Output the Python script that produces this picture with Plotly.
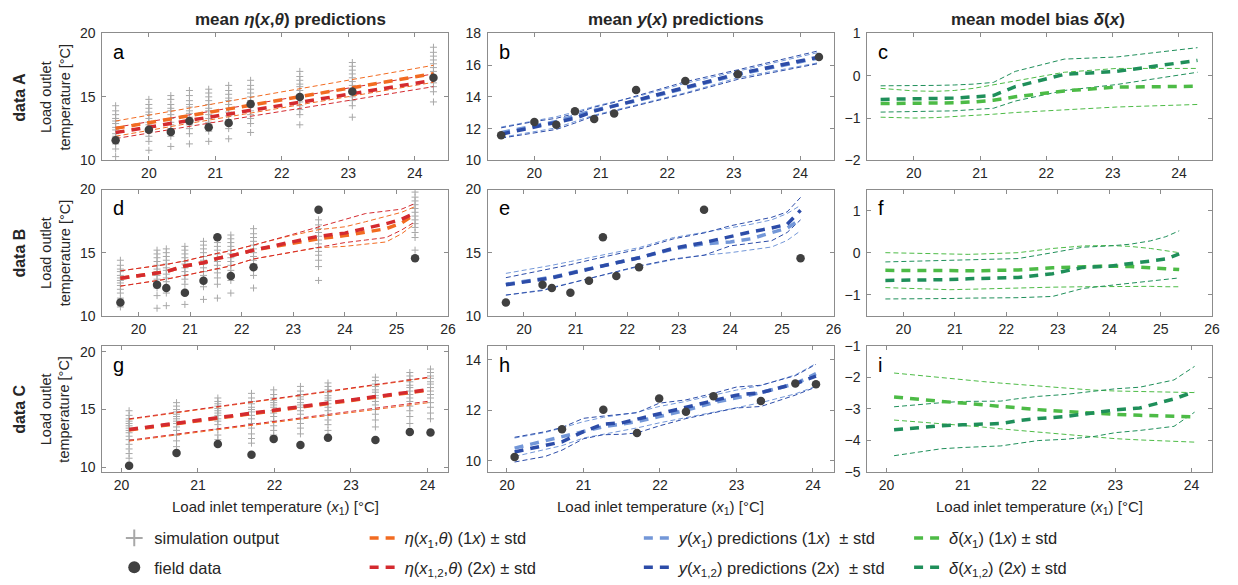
import plotly.graph_objects as go

# ---------------- DATA ----------------
# data A (field inputs and outputs)
xA = [19.5, 20.0, 20.33, 20.61, 20.9, 21.2, 21.53, 22.27, 23.06, 24.28]
fieldA = [11.58, 12.42, 12.24, 13.1, 12.6, 12.95, 14.43, 14.99, 15.42, 16.5]
simA = [
    [10.3, 10.9, 11.3, 11.6, 11.9, 12.1, 12.4, 12.6, 12.9, 13.1, 13.3, 13.6, 13.9, 14.3],
    [10.8, 11.5, 11.9, 12.2, 12.5, 12.8, 13.0, 13.3, 13.6, 13.8, 14.1, 14.4, 14.8],
    [11.1, 11.9, 12.2, 12.5, 12.8, 13.0, 13.3, 13.6, 13.9, 14.1, 14.4, 14.8, 15.1],
    [11.3, 12.1, 12.5, 12.8, 13.1, 13.4, 13.7, 13.9, 14.2, 14.4, 14.7, 15.1, 15.5],
    [11.5, 12.3, 12.7, 13.0, 13.3, 13.6, 13.9, 14.1, 14.4, 14.7, 15.0, 15.3, 15.6],
    [11.7, 12.5, 12.9, 13.2, 13.5, 13.8, 14.1, 14.4, 14.7, 14.9, 15.2, 15.5, 15.9],
    [12.2, 12.9, 13.3, 13.6, 13.9, 14.2, 14.5, 14.7, 15.0, 15.3, 15.6, 15.9, 16.3],
    [12.8, 13.6, 14.0, 14.3, 14.6, 14.9, 15.2, 15.5, 15.8, 16.0, 16.3, 16.6, 17.0],
    [13.4, 14.3, 14.7, 15.0, 15.3, 15.6, 15.9, 16.2, 16.5, 16.8, 17.1, 17.4, 17.7],
    [14.6, 15.4, 15.8, 16.1, 16.4, 16.7, 17.0, 17.3, 17.6, 17.9, 18.2, 18.5, 18.9],
]
eta1A_mean = [12.52, 12.97, 13.27, 13.52, 13.78, 14.05, 14.35, 15.01, 15.72, 16.82]
eta1A_up = [13.1, 13.56, 13.87, 14.12, 14.39, 14.67, 14.97, 15.65, 16.38, 17.48]
eta1A_lo = [11.9, 12.38, 12.67, 12.92, 13.17, 13.43, 13.73, 14.37, 15.06, 16.14]
eta2A_mean = [12.19, 12.62, 12.9, 13.14, 13.39, 13.65, 13.94, 14.57, 15.25, 16.3]
eta2A_up = [12.6, 13.05, 13.34, 13.59, 13.85, 14.11, 14.41, 15.05, 15.74, 16.8]
eta2A_lo = [11.72, 12.16, 12.45, 12.68, 12.93, 13.18, 13.47, 14.09, 14.76, 15.8]
y1A_mean = [11.75, 12.15, 12.45, 12.8, 13.15, 13.45, 13.75, 14.55, 15.4, 16.45]
y1A_up = [12.1, 12.5, 12.75, 13.05, 13.4, 13.7, 14.0, 14.85, 15.6, 16.8]
y1A_lo = [11.45, 11.8, 12.05, 12.45, 12.85, 13.15, 13.5, 14.25, 15.2, 16.15]
y2A_mean = [11.65, 12.1, 12.35, 12.65, 13.1, 13.42, 13.77, 14.6, 15.45, 16.5]
y2A_up = [12.05, 12.45, 12.65, 12.95, 13.35, 13.65, 14.05, 14.95, 15.7, 16.9]
y2A_lo = [11.4, 11.75, 11.95, 12.35, 12.8, 13.1, 13.45, 14.2, 15.1, 16.1]
d1A_mean = [-0.66, -0.66, -0.66, -0.64, -0.62, -0.58, -0.5, -0.36, -0.27, -0.25]
d1A_up = [-0.3, -0.36, -0.37, -0.35, -0.3, -0.22, -0.13, 0.08, 0.17, 0.17]
d1A_lo = [-0.98, -1.0, -0.99, -0.97, -0.94, -0.91, -0.87, -0.81, -0.74, -0.68]
d2A_mean = [-0.56, -0.55, -0.55, -0.53, -0.5, -0.47, -0.26, 0.03, 0.1, 0.36]
d2A_up = [-0.24, -0.24, -0.23, -0.22, -0.2, -0.16, 0.1, 0.39, 0.44, 0.66]
d2A_lo = [-0.86, -0.85, -0.84, -0.83, -0.8, -0.77, -0.6, -0.35, -0.21, 0.08]

# data B
xB = [19.65, 20.36, 20.54, 20.9, 21.26, 21.53, 21.79, 22.23, 23.49, 25.36]
fieldB = [11.05, 12.46, 12.2, 11.82, 12.77, 16.23, 13.15, 13.85, 18.41, 14.56]
simB = [
    [10.7, 11.4, 11.8, 12.1, 12.4, 12.6, 12.8, 13.0, 13.2, 13.5, 13.7, 14.0, 14.4],
    [10.6, 11.6, 12.2, 12.6, 12.9, 13.2, 13.5, 13.7, 14.0, 14.3, 14.6, 14.9, 15.2],
    [10.8, 11.8, 12.3, 12.7, 13.0, 13.3, 13.6, 13.8, 14.1, 14.4, 14.7, 15.0, 15.3],
    [10.9, 11.9, 12.5, 12.9, 13.2, 13.5, 13.8, 14.1, 14.3, 14.6, 14.9, 15.2, 15.5],
    [11.3, 12.3, 12.8, 13.2, 13.5, 13.8, 14.1, 14.4, 14.7, 15.0, 15.3, 15.6, 15.9],
    [11.4, 12.5, 13.0, 13.4, 13.7, 14.0, 14.3, 14.6, 14.9, 15.2, 15.5, 15.8, 16.2],
    [11.8, 12.8, 13.3, 13.6, 14.0, 14.3, 14.6, 14.9, 15.2, 15.5, 15.8, 16.1, 16.4],
    [12.2, 13.2, 13.7, 14.1, 14.4, 14.7, 15.0, 15.3, 15.6, 15.9, 16.2, 16.5, 16.9],
    [12.8, 13.9, 14.4, 14.8, 15.1, 15.4, 15.7, 16.0, 16.3, 16.6, 16.9, 17.2, 17.6],
    [15.2, 16.2, 16.6, 17.0, 17.3, 17.6, 17.9, 18.2, 18.5, 18.8, 19.1, 19.4, 19.8],
]
gridB = [19.65, 20.36, 20.54, 20.9, 21.26, 21.53, 21.79, 22.23, 22.9, 23.49, 24.0, 24.4, 24.8, 25.1, 25.36]
eta1B_mean = [12.97, 13.35, 13.5, 13.95, 14.2, 14.55, 14.75, 15.2, 15.7, 16.1, 16.35, 16.65, 16.9, 17.35, 18.05]
eta1B_up = [13.56, 13.95, 14.07, 14.35, 14.7, 14.95, 15.15, 15.6, 16.3, 16.82, 17.05, 17.45, 17.85, 18.2, 18.65]
eta1B_lo = [12.35, 12.8, 12.9, 13.2, 13.5, 13.75, 13.95, 14.5, 14.95, 15.4, 15.5, 15.65, 15.85, 16.5, 17.3]
eta2B_mean = [12.97, 13.35, 13.5, 13.95, 14.2, 14.55, 14.75, 15.2, 15.75, 16.3, 16.55, 16.9, 17.3, 17.65, 18.15]
eta2B_up = [13.56, 13.95, 14.07, 14.35, 14.7, 14.95, 15.15, 15.6, 16.35, 17.05, 17.6, 18.1, 18.3, 18.45, 18.9]
eta2B_lo = [12.35, 12.8, 12.9, 13.2, 13.5, 13.75, 13.95, 14.5, 15.0, 15.45, 15.8, 16.0, 16.2, 16.8, 17.45]
y1B_mean = [12.5, 12.9, 13.05, 13.4, 13.75, 14.0, 14.2, 14.6, 15.3, 15.7, 15.85, 16.1, 16.55, 16.95, 17.64]
y1B_up = [13.36, 13.85, 14.0, 14.3, 14.6, 14.85, 15.05, 15.4, 16.2, 16.6, 16.95, 17.25, 17.6, 18.1, 18.75]
y1B_lo = [11.64, 12.05, 12.25, 12.6, 12.95, 13.2, 13.45, 13.9, 14.45, 14.8, 15.0, 15.2, 15.45, 15.97, 16.74]
y2B_mean = [12.46, 12.85, 13.0, 13.35, 13.72, 14.0, 14.2, 14.6, 15.35, 15.8, 16.3, 16.65, 16.95, 17.25, 18.36]
y2B_up = [13.02, 13.6, 13.75, 14.05, 14.4, 14.64, 14.9, 15.28, 16.1, 16.56, 17.13, 17.45, 17.8, 18.23, 19.38]
y2B_lo = [11.64, 12.0, 12.2, 12.6, 12.95, 13.23, 13.5, 13.95, 14.5, 14.8, 15.54, 15.75, 15.95, 16.6, 17.6]
d1B_mean = [-0.42, -0.43, -0.43, -0.44, -0.43, -0.43, -0.42, -0.41, -0.36, -0.33, -0.32, -0.33, -0.35, -0.38, -0.4]
d1B_up = [0.0, -0.02, -0.03, -0.04, -0.04, -0.03, -0.02, 0.0, 0.1, 0.16, 0.17, 0.15, 0.1, 0.04, 0.0]
d1B_lo = [-0.83, -0.86, -0.87, -0.88, -0.87, -0.86, -0.85, -0.83, -0.82, -0.81, -0.8, -0.8, -0.8, -0.81, -0.81]
d2B_mean = [-0.66, -0.66, -0.65, -0.64, -0.62, -0.61, -0.6, -0.59, -0.5, -0.35, -0.32, -0.27, -0.2, -0.15, -0.03]
d2B_up = [-0.22, -0.2, -0.2, -0.19, -0.18, -0.17, -0.16, -0.14, 0.0, 0.13, 0.16, 0.2, 0.28, 0.38, 0.52]
d2B_lo = [-1.1, -1.1, -1.1, -1.09, -1.08, -1.08, -1.07, -1.07, -1.04, -0.85, -0.78, -0.73, -0.68, -0.64, -0.6]

# data C
xC = [20.1, 20.72, 21.26, 21.7, 21.99, 22.34, 22.7, 23.32, 23.77, 24.04]
fieldC = [10.15, 11.25, 12.02, 11.1, 12.47, 11.94, 12.56, 12.37, 13.06, 13.03]
simC = [
    [10.8, 11.2, 11.6, 12.0, 12.4, 12.7, 13.0, 13.2, 13.4, 13.6, 13.8, 14.0, 14.2, 14.5, 14.9],
    [11.8, 12.3, 12.8, 13.2, 13.5, 13.8, 14.0, 14.2, 14.4, 14.6, 14.8, 15.0, 15.3, 15.6],
    [12.4, 12.8, 13.3, 13.7, 14.0, 14.2, 14.5, 14.7, 14.9, 15.1, 15.3, 15.5, 15.7, 16.0],
    [12.1, 12.5, 12.9, 13.4, 13.8, 14.2, 14.5, 14.8, 15.0, 15.2, 15.5, 15.7, 16.0, 16.4],
    [12.8, 13.2, 13.6, 14.0, 14.4, 14.7, 14.9, 15.2, 15.4, 15.6, 15.8, 16.0, 16.3, 16.7],
    [12.9, 13.4, 13.8, 14.2, 14.6, 14.9, 15.2, 15.4, 15.6, 15.9, 16.1, 16.3, 16.6, 17.0],
    [13.2, 13.7, 14.1, 14.5, 14.9, 15.2, 15.5, 15.8, 16.0, 16.2, 16.5, 16.7, 17.0, 17.3],
    [13.5, 14.1, 14.6, 15.0, 15.4, 15.7, 16.0, 16.2, 16.5, 16.7, 17.0, 17.2, 17.5, 17.8],
    [13.8, 14.4, 14.9, 15.3, 15.7, 16.0, 16.3, 16.6, 16.9, 17.1, 17.4, 17.6, 17.9, 18.2],
    [14.2, 14.7, 15.2, 15.6, 16.0, 16.3, 16.6, 16.9, 17.2, 17.4, 17.7, 17.9, 18.2, 18.5],
]
eta1C_mean = [13.23, 13.78, 14.25, 14.64, 14.89, 15.2, 15.52, 16.06, 16.46, 16.7]
eta1C_up = [14.15, 14.72, 15.22, 15.62, 15.89, 16.21, 16.54, 17.11, 17.53, 17.77]
eta1C_lo = [12.28, 12.8, 13.25, 13.63, 13.88, 14.18, 14.49, 15.02, 15.4, 15.62]
eta2C_mean = [13.28, 13.83, 14.3, 14.69, 14.94, 15.25, 15.57, 16.11, 16.51, 16.75]
eta2C_up = [14.2, 14.77, 15.27, 15.67, 15.94, 16.26, 16.59, 17.16, 17.58, 17.82]
eta2C_lo = [12.35, 12.88, 13.35, 13.73, 13.98, 14.28, 14.59, 15.12, 15.51, 15.74]
gridC = [20.1, 20.5, 20.72, 21.0, 21.26, 21.5, 21.7, 21.99, 22.34, 22.7, 23.0, 23.32, 23.77, 24.04]
y1C_mean = [10.5, 10.8, 10.95, 11.15, 11.35, 11.45, 11.55, 11.75, 12.0, 12.3, 12.5, 12.7, 13.05, 13.45]
y1C_up = [10.9, 11.12, 11.3, 11.55, 11.72, 11.82, 11.92, 12.15, 12.35, 12.6, 12.8, 12.98, 13.4, 13.85]
y1C_lo = [10.17, 10.45, 10.6, 10.9, 11.05, 11.2, 11.3, 11.5, 11.7, 11.9, 12.1, 12.3, 12.65, 12.95]
y2C_mean = [10.35, 10.62, 10.75, 11.15, 11.45, 11.5, 11.65, 11.85, 12.1, 12.4, 12.6, 12.7, 13.05, 13.35]
y2C_up = [10.93, 11.15, 11.32, 11.68, 11.77, 11.85, 11.9, 12.28, 12.41, 12.67, 12.92, 12.99, 13.37, 13.82]
y2C_lo = [9.95, 10.17, 10.42, 10.87, 11.03, 11.05, 11.1, 11.38, 11.67, 11.9, 12.09, 12.15, 12.6, 12.92]
d1C_mean = [-2.62, -2.72, -2.76, -2.81, -2.87, -2.93, -2.97, -3.02, -3.08, -3.14, -3.17, -3.2, -3.23, -3.25]
d1C_up = [-1.86, -1.96, -2.0, -2.07, -2.13, -2.18, -2.22, -2.27, -2.33, -2.4, -2.43, -2.45, -2.47, -2.48]
d1C_lo = [-3.35, -3.42, -3.46, -3.51, -3.57, -3.63, -3.67, -3.74, -3.81, -3.88, -3.94, -3.98, -4.03, -4.05]
d2C_mean = [-3.66, -3.57, -3.53, -3.5, -3.49, -3.46, -3.38, -3.3, -3.24, -3.13, -3.03, -2.97, -2.68, -2.45]
d2C_up = [-2.93, -2.84, -2.8, -2.76, -2.76, -2.75, -2.68, -2.6, -2.54, -2.45, -2.36, -2.31, -2.08, -1.65]
d2C_lo = [-4.48, -4.33, -4.26, -4.22, -4.19, -4.17, -4.1, -4.0, -3.96, -3.88, -3.75, -3.68, -3.55, -3.1]

# axis ranges / ticks per panel (a..i)
x_ranges = [[19.3, 24.5]] * 3 + [[19.3, 26.0]] * 3 + [[19.75, 24.27]] * 3
x_ticks = [[20, 21, 22, 23, 24]] * 3 + [[20, 21, 22, 23, 24, 25, 26]] * 3 + [[20, 21, 22, 23, 24]] * 3
y_ranges = [[10, 20], [10, 18], [-2, 1], [10, 20], [10, 20], [-1.5, 1.5],
            [9.6, 20.5], [9.55, 14.55], [-5, -1]]
y_ticks = [[10, 15, 20], [10, 12, 14, 16, 18], [-2, -1, 0, 1], [10, 15, 20], [10, 15, 20],
           [-1, 0, 1], [10, 15, 20], [10, 12, 14], [-5, -4, -3, -2, -1]]
panel_letters = ["a", "b", "c", "d", "e", "f", "g", "h", "i"]
col_titles = ["<b>mean <i>η</i>(<i>x</i>,<i>θ</i>) predictions</b>",
              "<b>mean <i>y</i>(<i>x</i>) predictions</b>",
              "<b>mean model bias <i>δ</i>(<i>x</i>)</b>"]
row_titles = ["<b>data A</b>", "<b>data B</b>", "<b>data C</b>"]
ylab = "Load outlet<br>temperature [°C]"
xlab = "Load inlet temperature (<i>x</i><sub>1</sub>) [°C]"
leg_names = {
    "sim": "simulation output",
    "field": "field data",
    "eta1": "<i>η</i>(<i>x</i><sub>1</sub>,<i>θ</i>) (1<i>x</i>) ± std",
    "eta2": "<i>η</i>(<i>x</i><sub>1,2</sub>,<i>θ</i>) (2<i>x</i>) ± std",
    "y1": "<i>y</i>(<i>x</i><sub>1</sub>) predictions (1<i>x</i>) \u00a0± std",
    "y2": "<i>y</i>(<i>x</i><sub>1,2</sub>) predictions (2<i>x</i>) \u00a0± std",
    "d1": "<i>δ</i>(<i>x</i><sub>1</sub>) (1<i>x</i>) ± std",
    "d2": "<i>δ</i>(<i>x</i><sub>1,2</sub>) (2<i>x</i>) ± std",
}

# ---------------- STYLE ----------------
W, H = 1238, 585
FONT = "Liberation Sans, Arial, Helvetica, sans-serif"
TXT = "#262626"
AXC = "#8c8c8c"
C_OR, C_RED = "#F26B21", "#D42A2F"
C_LB, C_DB = "#7397D8", "#2C4CA8"
C_LG, C_DG = "#4DBB46", "#1F8F5A"
C_SIM, C_FIELD = "#a8a8a8", "#404040"
COLS = [(103, 451), (491, 839), (873, 1220)]
ROWS = [(26, 157), (187, 317), (348, 478)]


def px(v):
    return v / W


def py(v):
    return 1 - v / H


fig = go.Figure()


def axn(k):
    n = k + 1
    return ("x" if n == 1 else f"x{n}"), ("y" if n == 1 else f"y{n}")


def add_sim(k, xs, sims, legend=False):
    xa, ya = axn(k)
    xx, yy = [], []
    for xv, vals in zip(xs, sims):
        xx += [xv] * len(vals)
        yy += vals
    fig.add_trace(go.Scatter(x=xx, y=yy, mode="markers", xaxis=xa, yaxis=ya,
                             marker=dict(symbol="cross-thin", size=5, color=C_SIM,
                                         line=dict(width=1, color=C_SIM)),
                             name=leg_names["sim"], showlegend=legend, legend="legend",
                             legendgroup="sim", legendrank=1, hoverinfo="skip"))


def add_field(k, xs, ys, legend=False):
    xa, ya = axn(k)
    fig.add_trace(go.Scatter(x=xs, y=ys, mode="markers", xaxis=xa, yaxis=ya,
                             marker=dict(symbol="circle", size=8.5, color=C_FIELD),
                             name=leg_names["field"], showlegend=legend, legend="legend",
                             legendgroup="field", legendrank=2))


def add_band(k, xs, mean, up, lo, color, key=None, leg=None, rank=1):
    xa, ya = axn(k)
    for arr in (up, lo):
        fig.add_trace(go.Scatter(x=xs, y=arr, mode="lines", xaxis=xa, yaxis=ya,
                                 line=dict(color=color, width=1, dash="5px,3px"),
                                 showlegend=False, hoverinfo="skip"))
    return dict(x=xs, y=mean, mode="lines", xaxis=xa, yaxis=ya,
                line=dict(color=color, width=3.5, dash="9px,7px"),
                name=leg_names[key] if key else None,
                showlegend=key is not None, legend=leg or "legend",
                legendgroup=key, legendrank=rank)


def add_pair(k, xs1, s1, xs2, s2, c1, c2, keys=None, leg=None):
    m1 = add_band(k, xs1, *s1, c1, key=keys[0] if keys else None, leg=leg, rank=1)
    m2 = add_band(k, xs2, *s2, c2, key=keys[1] if keys else None, leg=leg, rank=2)
    fig.add_trace(go.Scatter(**m1))
    fig.add_trace(go.Scatter(**m2))


# row A
add_sim(0, xA, simA, legend=True)
add_pair(0, xA, (eta1A_mean, eta1A_up, eta1A_lo), xA, (eta2A_mean, eta2A_up, eta2A_lo),
         C_OR, C_RED, keys=("eta1", "eta2"), leg="legend2")
add_field(0, xA, fieldA, legend=True)
add_pair(1, xA, (y1A_mean, y1A_up, y1A_lo), xA, (y2A_mean, y2A_up, y2A_lo),
         C_LB, C_DB, keys=("y1", "y2"), leg="legend3")
add_field(1, xA, fieldA)
add_pair(2, xA, (d1A_mean, d1A_up, d1A_lo), xA, (d2A_mean, d2A_up, d2A_lo),
         C_LG, C_DG, keys=("d1", "d2"), leg="legend4")
# row B
add_sim(3, xB, simB)
add_pair(3, gridB, (eta1B_mean, eta1B_up, eta1B_lo), gridB, (eta2B_mean, eta2B_up, eta2B_lo),
         C_OR, C_RED)
add_field(3, xB, fieldB)
add_pair(4, gridB, (y1B_mean, y1B_up, y1B_lo), gridB, (y2B_mean, y2B_up, y2B_lo), C_LB, C_DB)
add_field(4, xB, fieldB)
add_pair(5, gridB, (d1B_mean, d1B_up, d1B_lo), gridB, (d2B_mean, d2B_up, d2B_lo), C_LG, C_DG)
# row C
add_sim(6, xC, simC)
add_pair(6, xC, (eta1C_mean, eta1C_up, eta1C_lo), xC, (eta2C_mean, eta2C_up, eta2C_lo),
         C_OR, C_RED)
add_field(6, xC, fieldC)
add_pair(7, gridC, (y1C_mean, y1C_up, y1C_lo), gridC, (y2C_mean, y2C_up, y2C_lo), C_LB, C_DB)
add_field(7, xC, fieldC)
add_pair(8, gridC, (d1C_mean, d1C_up, d1C_lo), gridC, (d2C_mean, d2C_up, d2C_lo), C_LG, C_DG)

# ---------------- LAYOUT ----------------
layout = dict(width=W, height=H, margin=dict(l=0, r=0, t=0, b=0),
              paper_bgcolor="white", plot_bgcolor="white",
              font=dict(family=FONT, color=TXT), hovermode="closest")
common = dict(showline=True, linecolor=AXC, linewidth=1, mirror="ticks", ticks="inside",
              ticklen=4, tickcolor=AXC, tickwidth=1, showgrid=False, zeroline=False,
              tickfont=dict(family=FONT, size=14, color=TXT))
annotations = []
for k in range(9):
    r, c = divmod(k, 3)
    x0, x1 = COLS[c]
    y0, y1 = ROWS[r]
    n = k + 1
    xkey = "xaxis" if n == 1 else f"xaxis{n}"
    ykey = "yaxis" if n == 1 else f"yaxis{n}"
    ya = "y" if n == 1 else f"y{n}"
    xa = "x" if n == 1 else f"x{n}"
    layout[xkey] = dict(common, domain=[px(x0), px(x1)], range=x_ranges[k],
                        tickvals=x_ticks[k], anchor=ya, ticklabelstandoff=0)
    layout[ykey] = dict(common, domain=[py(y1), py(y0)], range=y_ranges[k],
                        tickvals=y_ticks[k], anchor=xa, ticklabelstandoff=3)
    annotations.append(dict(text=panel_letters[k], x=px(x0 + 9), y=py(y0 + 6),
                            xref="paper", yref="paper", xanchor="left", yanchor="top",
                            showarrow=False, font=dict(size=20, color="black", family=FONT)))

title_x = [292, 680, 1045]
for c in range(3):
    annotations.append(dict(text=col_titles[c], x=px(title_x[c]), y=py(12), xref="paper",
                            yref="paper", xanchor="center", yanchor="middle", showarrow=False,
                            font=dict(size=17, color=TXT, family=FONT)))
    annotations.append(dict(text=xlab, x=px((COLS[c][0] + COLS[c][1]) / 2), y=py(503),
                            xref="paper", yref="paper", xanchor="center", yanchor="top",
                            showarrow=False, font=dict(size=15, color=TXT, family=FONT)))
for r in range(3):
    yc = (ROWS[r][0] + ROWS[r][1]) / 2
    annotations.append(dict(text=row_titles[r], x=px(20), y=py(yc), xref="paper", yref="paper",
                            xanchor="center", yanchor="middle", textangle=-90, showarrow=False,
                            font=dict(size=16, color=TXT, family=FONT)))
    annotations.append(dict(text=ylab, x=px(56), y=py(yc), xref="paper", yref="paper",
                            xanchor="center", yanchor="middle", textangle=-90, showarrow=False,
                            font=dict(size=14.5, color=TXT, family=FONT)))
layout["annotations"] = annotations

legfont = dict(size=16.5, color=TXT, family=FONT)
leg_x = [115, 367, 643, 915]
for i, lk in enumerate(["legend", "legend2", "legend3", "legend4"]):
    layout[lk] = dict(x=px(leg_x[i]), y=py(528), xanchor="left", yanchor="top",
                      orientation="v", font=legfont, bgcolor="rgba(0,0,0,0)",
                      tracegroupgap=5, itemsizing="constant" if i == 0 else "trace",
                      traceorder="grouped")
fig.update_layout(**layout)

fig.write_html("out.html")
